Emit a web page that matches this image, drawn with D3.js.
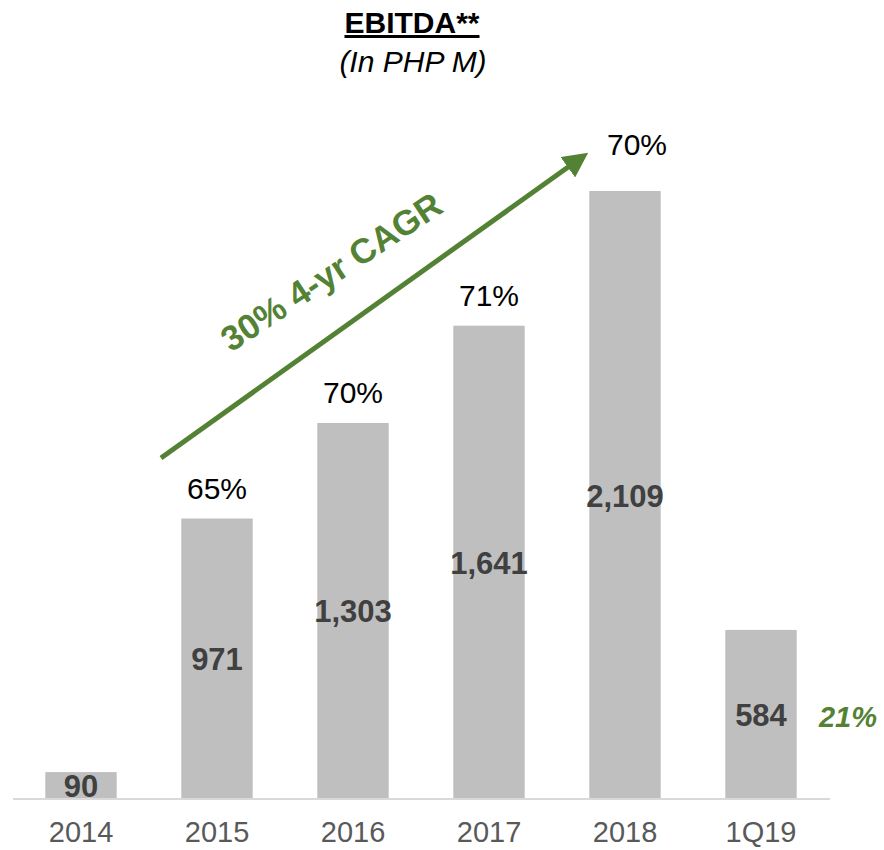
<!DOCTYPE html>
<html>
<head>
<meta charset="utf-8">
<script src="https://cdn.jsdelivr.net/npm/d3@7"></script>
<style>
  body { margin: 0; background: #fff; }
  svg { font-family: "Liberation Sans", Arial, sans-serif; }
</style>
</head>
<body>
<div id="chart"></div>
<script>
const periods = ['2014', '2015', '2016', '2017', '2018', '1Q19'];
const ebitda = [90, 971, 1303, 1641, 2109, 584];
const margins = ['', '65%', '70%', '71%', '70%', ''];
const cagrLabel = '30% 4-yr CAGR';
const quarterGrowth = '21%';

const width = 884, height = 850;
const green = '#548235';

const svg = d3.select('#chart')
    .append('svg')
    .attr('width', width)
    .attr('height', height);

const x = d3.scaleBand()
    .domain(periods)
    .range([13, 829])
    .paddingInner(0.475)
    .paddingOuter(0.2375);

const y = d3.scaleLinear()
    .domain([0, 2109])
    .range([798, 191]);

// title
svg.append('text')
    .attr('x', 412)
    .attr('y', 33)
    .attr('text-anchor', 'middle')
    .attr('font-size', 30)
    .attr('font-weight', 'bold')
    .attr('text-decoration', 'underline')
    .attr('fill', '#000')
    .text('EBITDA**');

svg.append('text')
    .attr('x', 413)
    .attr('y', 72)
    .attr('text-anchor', 'middle')
    .attr('font-size', 30)
    .attr('font-style', 'italic')
    .attr('fill', '#000')
    .text('(In PHP M)');

// bars
const bars = svg.selectAll('.bar')
    .data(periods)
    .enter()
    .append('g')
    .attr('class', 'bar');

bars.append('rect')
    .attr('x', d => x(d))
    .attr('y', (d, i) => y(ebitda[i]))
    .attr('width', x.bandwidth())
    .attr('height', (d, i) => y(0) - y(ebitda[i]))
    .attr('fill', '#bfbfbf');

bars.append('text')
    .attr('x', d => x(d) + x.bandwidth() / 2)
    .attr('y', (d, i) => (y(ebitda[i]) + y(0)) / 2 + 12)
    .attr('text-anchor', 'middle')
    .attr('font-size', 31)
    .attr('font-weight', 'bold')
    .attr('fill', '#404040')
    .text((d, i) => d3.format(',')(ebitda[i]));

bars.append('text')
    .attr('x', (d, i) => x(d) + x.bandwidth() / 2 + (i === 4 ? 12 : 0))
    .attr('y', (d, i) => y(ebitda[i]) - (i === 4 ? 36 : 20))
    .attr('text-anchor', 'middle')
    .attr('font-size', 30)
    .attr('fill', '#000')
    .text((d, i) => margins[i]);

// baseline
svg.append('line')
    .attr('x1', 13)
    .attr('x2', 830)
    .attr('y1', y(0) + 1)
    .attr('y2', y(0) + 1)
    .attr('stroke', '#d9d9d9')
    .attr('stroke-width', 2);

// axis labels
const xAxis = svg.append('g')
    .attr('transform', `translate(0, ${y(0) + 2})`)
    .call(d3.axisBottom(x).tickSize(0).tickPadding(21));
xAxis.select('.domain').remove();
xAxis.selectAll('text')
    .attr('font-size', 29)
    .attr('font-family', '"Liberation Sans", Arial, sans-serif')
    .attr('fill', '#595959');

// CAGR arrow
svg.append('defs').append('marker')
    .attr('id', 'arrow')
    .attr('viewBox', '0 0 10 10')
    .attr('refX', 5)
    .attr('refY', 5)
    .attr('markerWidth', 5)
    .attr('markerHeight', 5)
    .attr('orient', 'auto')
    .append('path')
    .attr('d', 'M0,0 L10,5 L0,10 Z')
    .attr('fill', green);

svg.append('line')
    .attr('x1', 161)
    .attr('y1', 458)
    .attr('x2', 578)
    .attr('y2', 160)
    .attr('stroke', green)
    .attr('stroke-width', 5)
    .attr('marker-end', 'url(#arrow)');

svg.append('text')
    .attr('transform', 'translate(338, 282) rotate(-33.5)')
    .attr('text-anchor', 'middle')
    .attr('font-size', 35)
    .attr('font-weight', 'bold')
    .attr('fill', green)
    .text(cagrLabel);

svg.append('text')
    .attr('x', 848)
    .attr('y', 727)
    .attr('text-anchor', 'middle')
    .attr('font-size', 29)
    .attr('font-weight', 'bold')
    .attr('font-style', 'italic')
    .attr('fill', green)
    .text(quarterGrowth);
</script>
</body>
</html>
